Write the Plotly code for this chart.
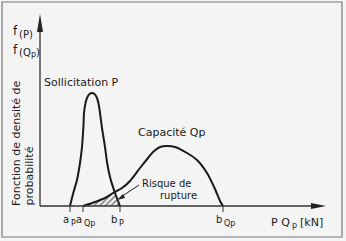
import numpy as np
import plotly.graph_objects as go

# ---- data (abstract units: x in kN measured from the y-axis, y = density) ----
p_x = [30, 33, 37, 40, 42, 43.5, 44, 45.5, 47, 49.5, 52, 54.5, 57, 59, 60, 62, 65, 67, 70, 75, 80]
p_y = [0, 12, 26, 43, 59, 81, 93, 103, 108, 112, 113, 112, 108, 100, 93, 78, 59, 44, 29, 13, 0]

q_x = [43, 55, 65, 73, 82, 90, 100, 108, 113, 120, 127, 135, 147, 157, 167, 175, 180, 183]
q_y = [0, 4, 8, 13, 18, 25, 38, 48, 54, 59, 60, 59, 53, 46, 33, 17, 5, 0]

tick_vals = [30, 43, 80, 183]
tick_main = ["a", "a", "b", "b"]
tick_sub = ["P", "Qp", "P", "Qp"]
tick_label_shift = [0, 0, -2, 0]

# axis extents (data units)
X_AXIS_END = 286
Y_AXIS_END = 192

W, H = 346, 241
OX, OY = 40, 206          # pixel position of the origin
X_RANGE = [-OX, W - OX]
Y_RANGE = [OY - H, OY]

FONT = "DejaVu Sans"
INK = "#1a1a1a"
AXC = "#333"

fig = go.Figure()

# hatched overlap area (under both curves)
grid = np.linspace(q_x[0], p_x[-1], 80)
low = np.minimum(np.interp(grid, p_x, p_y), np.interp(grid, q_x, q_y))
fig.add_trace(go.Scatter(
    x=np.concatenate([grid, grid[::-1]]), y=np.concatenate([low, np.zeros_like(low)]),
    mode="lines", line=dict(width=0), fill="toself", fillcolor="rgba(0,0,0,0)",
    fillpattern=dict(shape="/", fgcolor="#111", bgcolor="rgba(0,0,0,0)", size=4, solidity=0.4),
    hoverinfo="skip", showlegend=False))

fig.add_trace(go.Scatter(x=p_x, y=p_y, mode="lines",
                         line=dict(color=INK, width=2, shape="spline", smoothing=0.6),
                         hoverinfo="skip", showlegend=False))
fig.add_trace(go.Scatter(x=q_x, y=q_y, mode="lines",
                         line=dict(color=INK, width=2, shape="spline", smoothing=0.6),
                         hoverinfo="skip", showlegend=False))

fig.update_xaxes(range=X_RANGE, visible=False)
fig.update_yaxes(range=Y_RANGE, visible=False)

shapes = []


def line(x0, y0, x1, y1, color=AXC, width=1.3, **kw):
    shapes.append(dict(type="line", xref="x", yref="y", x0=x0, y0=y0, x1=x1, y1=y1,
                       line=dict(color=color, width=width), **kw))


def tri(points, color="#222"):
    p = "M " + " L ".join(f"{a},{b}" for a, b in points) + " Z"
    shapes.append(dict(type="path", xref="x", yref="y", path=p, fillcolor=color, line=dict(width=0)))


# axes with arrowheads
line(0, 0, X_AXIS_END - 12, 0)
line(0, 0, 0, Y_AXIS_END - 14)
tri([(X_AXIS_END - 15, 3), (X_AXIS_END, 0), (X_AXIS_END - 15, -3)])
tri([(-3, Y_AXIS_END - 18), (0, Y_AXIS_END), (3, Y_AXIS_END - 18)])
# ticks
for v in tick_vals:
    line(v, 0, v, -6, width=1)
# leader line + arrowhead for "Risque de rupture"
line(99, 21, 81, 9, color="#222", width=1)
tri([(83, 12), (77, 6), (85, 8)])
# frame
shapes.append(dict(type="rect", xref="x", yref="y", x0=2 - OX, y0=OY - 237, x1=342 - OX, y1=OY - 2,
                   line=dict(color="#777", width=1.2), layer="below"))

ann = []


def txt(x, y, text, size=11, xanchor="center", yanchor="middle", **kw):
    ann.append(dict(x=x, y=y, xref="x", yref="y", text=text, showarrow=False,
                    xanchor=xanchor, yanchor=yanchor, borderpad=0,
                    font=dict(family=FONT, size=size, color=INK), **kw))


txt(41, 124, "Sollicitation P")
txt(131, 74, "Capacité Qp")
txt(126, 23, "Risque de", size=10)
txt(138, 11, "rupture", size=10)

# x axis title "P Qp [kN]" (subscript drawn as its own small text)
txt(251, -16, "P Q", size=11, xanchor="right")
txt(251, -19, "p", size=8, xanchor="left")
txt(259, -16, "[kN]", size=11, xanchor="left")

# y axis labels f(P), f(Qp)
txt(-24.5, 175, "f", size=12)
txt(-14, 172, "(P)", size=10)
txt(-24.5, 156, "f", size=12)
txt(-22, 154, "(Q", size=10, xanchor="left")
txt(-10.5, 151.5, "p", size=8, xanchor="left")
txt(-5.5, 154, ")", size=10, xanchor="left")

txt(-24, -1, "Fonction de densité de", size=11, textangle=-90, yanchor="bottom")
txt(-11, -1, "probabilité", size=11, textangle=-90, yanchor="bottom")

# x tick labels: main letter + subscript
for v, m, s, d in zip(tick_vals, tick_main, tick_sub, tick_label_shift):
    txt(v + d, -13, m, size=10, xanchor="right")
    txt(v + d, -17, s, size=8, xanchor="left")

fig.update_layout(width=W, height=H, margin=dict(l=0, r=0, t=0, b=0),
                  paper_bgcolor="#f4f4f4", plot_bgcolor="rgba(0,0,0,0)",
                  shapes=shapes, annotations=ann, showlegend=False)

fig.write_html("out.html", config={"displayModeBar": False},
               post_script="document.body.style.margin='0px';document.body.style.overflow='hidden';")
